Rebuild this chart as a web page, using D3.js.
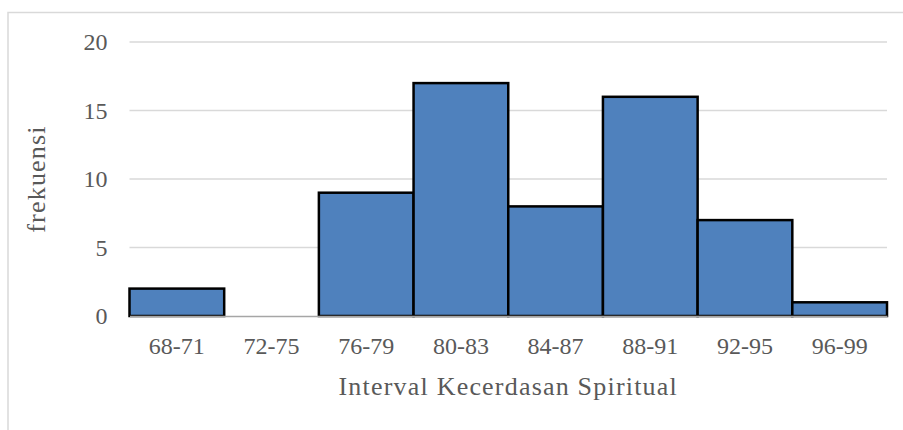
<!DOCTYPE html>
<html>
<head>
<meta charset="utf-8">
<script src="https://cdn.jsdelivr.net/npm/d3@7"></script>
<style>
  body { margin: 0; background: #fff; }
  text { font-family: "Liberation Serif", "DejaVu Serif", serif; fill: #595959; }
</style>
</head>
<body>
<div id="chart"></div>
<script>
const categories = ["68-71", "72-75", "76-79", "80-83", "84-87", "88-91", "92-95", "96-99"];
const frequencies = [2, 0, 9, 17, 8, 16, 7, 1];
const yTicks = [0, 5, 10, 15, 20];

const width = 903,
    height = 430,
    plotLeft = 129.5,
    plotRight = 887,
    plotTop = 42,
    plotBottom = 316;

const svg = d3
    .select("#chart")
    .append("svg")
    .attr("width", width)
    .attr("height", height);

// chart frame (cut off at right and bottom)
svg.append("rect")
    .attr("x", 8)
    .attr("y", 12.5)
    .attr("width", 1000)
    .attr("height", 1000)
    .attr("fill", "none")
    .attr("stroke", "#d9d9d9")
    .attr("stroke-width", 1.5);

const xScale = d3.scaleBand().domain(categories).range([plotLeft, plotRight]).padding(0);
const yScale = d3.scaleLinear().domain([0, 20]).range([plotBottom, plotTop]);

// gridlines
svg.append("g")
    .selectAll("line")
    .data(yTicks.filter((d) => d > 0))
    .enter()
    .append("line")
    .attr("x1", plotLeft)
    .attr("x2", plotRight)
    .attr("y1", (d) => yScale(d))
    .attr("y2", (d) => yScale(d))
    .attr("stroke", "#d9d9d9")
    .attr("stroke-width", 1.5);

// bars
const barData = categories
    .map((c, i) => ({ cat: c, value: frequencies[i] }))
    .filter((d) => d.value > 0);

svg.append("g")
    .selectAll("rect")
    .data(barData)
    .enter()
    .append("rect")
    .attr("x", (d) => xScale(d.cat))
    .attr("y", (d) => yScale(d.value))
    .attr("width", xScale.bandwidth())
    .attr("height", (d) => yScale(0) - yScale(d.value))
    .attr("fill", "#4f81bd")
    .attr("stroke", "#000")
    .attr("stroke-width", 2.5);

// y axis labels
const yAxis = d3.axisLeft(yScale).tickValues(yTicks).tickSize(0).tickPadding(22);
const gy = svg.append("g").attr("transform", "translate(" + plotLeft + ",0)").call(yAxis);
gy.select(".domain").remove();
gy.selectAll("text")
    .attr("font-family", null)
    .attr("font-size", null)
    .style("font-size", "24px");

// x axis
const xAxis = d3.axisBottom(xScale).tickSize(0).tickPadding(21);
const gx = svg.append("g").attr("transform", "translate(0," + plotBottom + ")").call(xAxis);
gx.select(".domain").attr("stroke", "#a6a6a6").attr("stroke-width", 1.5);
gx.selectAll("text")
    .attr("font-family", null)
    .attr("font-size", null)
    .style("font-size", "24px");

// axis titles
svg.append("text")
    .attr("x", (plotLeft + plotRight) / 2)
    .attr("y", 395)
    .attr("text-anchor", "middle")
    .style("font-size", "26px")
    .style("letter-spacing", "1.2px")
    .text("Interval Kecerdasan Spiritual");

svg.append("text")
    .attr("transform", "translate(45," + (plotTop + plotBottom) / 2 + ") rotate(-90)")
    .attr("text-anchor", "middle")
    .style("font-size", "26px")
    .style("letter-spacing", "1.2px")
    .text("frekuensi");
</script>
</body>
</html>
